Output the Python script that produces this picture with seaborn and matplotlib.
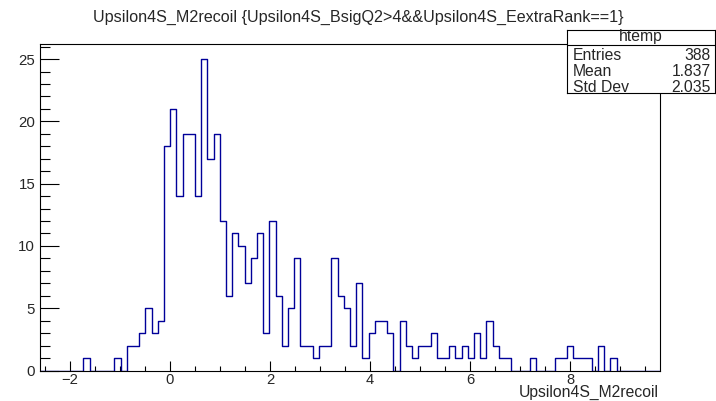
import numpy as np
import pandas as pd
import matplotlib
matplotlib.use("Agg")
import matplotlib.pyplot as plt
import seaborn as sns
from matplotlib.ticker import MultipleLocator

# bin counts, 100 bins from -2.6 to 9.8
counts = [0, 0, 0, 0, 0, 0, 0, 1, 0, 0,
          0, 0, 1, 0, 2, 2, 3, 5, 3, 4,
          18, 21, 14, 19, 19, 14, 25, 17, 19, 12,
          6, 11, 10, 7, 9, 11, 3, 12, 6, 2,
          5, 9, 2, 2, 1, 2, 2, 9, 6, 5,
          2, 7, 1, 3, 4, 4, 3, 0, 4, 2,
          1, 2, 2, 3, 1, 1, 2, 1, 2, 1,
          3, 1, 4, 2, 1, 1, 0, 0, 0, 1,
          0, 0, 0, 1, 1, 2, 1, 1, 1, 0,
          2, 0, 1, 0, 0, 0, 0, 0, 0, 0]
x_min, x_max = -2.6, 9.8
title = "Upsilon4S_M2recoil {Upsilon4S_BsigQ2>4&&Upsilon4S_EextraRank==1}"
x_label = "Upsilon4S_M2recoil"
stat_names = ["Entries", "Mean", "Std Dev"]
stat_values = ["388", "1.837", "2.035"]

sns.set_style("white")
plt.rcParams['font.family'] = ['Liberation Sans', 'DejaVu Sans']
fs = 11.3

edges = np.linspace(x_min, x_max, len(counts) + 1)
df = pd.DataFrame({"x": 0.5 * (edges[:-1] + edges[1:]), "n": counts})

W, H = 716, 401
fig = plt.figure(figsize=(W / 100, H / 100), dpi=100)
ax = fig.add_axes([40 / W, (H - 370.5) / H, 620 / W, 327 / H])
sns.histplot(data=df, x="x", weights="n", bins=len(counts), binrange=(x_min, x_max),
             element="step", fill=False, color="#000099", linewidth=1.0, ax=ax)
ax.set_xlim(x_min, x_max)
ax.set_ylim(0, max(counts) * 1.05)
ax.set_ylabel("")
ax.set_xlabel("")
ax.xaxis.set_major_locator(MultipleLocator(2))
ax.xaxis.set_minor_locator(MultipleLocator(0.5))
ax.yaxis.set_major_locator(MultipleLocator(5))
ax.yaxis.set_minor_locator(MultipleLocator(1))
ax.tick_params(which="both", bottom=True, left=True, top=False, right=False,
               direction="in", width=0.8, color="black")
ax.tick_params(axis="x", which="major", length=7.5, labelsize=10.6, pad=2)
ax.tick_params(axis="x", which="minor", length=3.8)
ax.tick_params(axis="y", which="major", length=14, labelsize=10.8, pad=3.5)
ax.tick_params(axis="y", which="minor", length=7)
for s in ax.spines.values():
    s.set_linewidth(0.8)
    s.set_color("black")

fig.text(358 / W, 1 - 17 / H, title, ha="center", va="center", fontsize=fs + 0.3)
fig.text(659 / W, 1 - 397 / H, x_label, ha="right", va="baseline", fontsize=fs)

# stats box
bx0, by0, bx1, by1 = 567, 30, 715, 93
box = fig.add_axes([bx0 / W, 1 - by1 / H, (bx1 - bx0) / W, (by1 - by0) / H])
box.set_xlim(0, 1)
box.set_ylim(by1, by0)
box.set_xticks([])
box.set_yticks([])
for s in box.spines.values():
    s.set_linewidth(0.8)
    s.set_color("black")
box.axhline(45, color="black", linewidth=0.8)
box.text(0.5, 37, "htemp", ha="center", va="center", fontsize=fs)
for yy, n, v in zip([55, 71.5, 87], stat_names, stat_values):
    box.text(0.04, yy, n, ha="left", va="center", fontsize=fs)
    box.text(0.97, yy, v, ha="right", va="center", fontsize=fs)

fig.savefig("out.png", dpi=100)
